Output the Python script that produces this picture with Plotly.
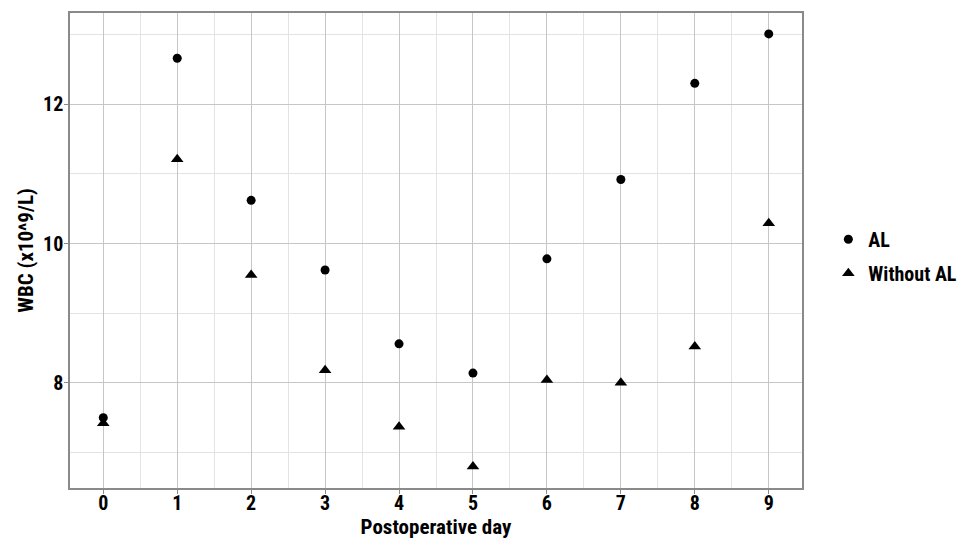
import plotly.graph_objects as go

days = [0, 1, 2, 3, 4, 5, 6, 7, 8, 9]
al_wbc = [7.50, 12.66, 10.62, 9.62, 8.56, 8.14, 9.78, 10.92, 12.30, 13.01]
without_al_wbc = [7.42, 11.21, 9.55, 8.18, 7.37, 6.80, 8.04, 8.00, 8.52, 10.29]
x_ticks = [0, 1, 2, 3, 4, 5, 6, 7, 8, 9]
y_ticks = [8, 10, 12]
y_minor = [7, 9, 11, 13]

FONT = "Roboto Condensed, Open Sans Condensed, sans-serif"

fig = go.Figure()
fig.add_trace(go.Scatter(
    x=days, y=al_wbc, mode="markers", name="<b>AL</b>", legendgroup="a",
    marker=dict(symbol="circle", size=9, color="black"),
))
fig.add_trace(go.Scatter(
    x=days, y=without_al_wbc, mode="markers", name="<b>Without AL</b>", legendgroup="b",
    marker=dict(symbol="triangle-up", size=11, color="black"),
))

axis_common = dict(
    showline=True, linecolor="#8a8a8a", linewidth=1.5, mirror=True,
    showgrid=True, gridcolor="#c6c6c6", gridwidth=1.3,
    ticks="outside", ticklen=4, tickcolor="#8a8a8a", tickwidth=1.2,
    zeroline=False, automargin=False,
    tickfont=dict(family=FONT, size=20, color="black"),
)

fig.update_xaxes(
    **axis_common,
    range=[-0.45, 9.45],
    ticklabelstandoff=-8,
    tickmode="array", tickvals=x_ticks, ticktext=[f"<b>{v}</b>" for v in x_ticks],
    minor=dict(dtick=0.5, tick0=0.5, showgrid=True, gridcolor="#e3e3e3", gridwidth=1.1),
    title=dict(text="<b>Postoperative day</b>", font=dict(family=FONT, size=21, color="black"), standoff=4),
)
fig.update_yaxes(
    **axis_common,
    range=[6.49, 13.31],
    ticklabelstandoff=-3,
    tickmode="array", tickvals=y_ticks, ticktext=[f"<b>{v}</b>" for v in y_ticks],
    minor=dict(tickmode="array", tickvals=y_minor, showgrid=True, gridcolor="#e3e3e3", gridwidth=1.1),
    title=dict(text="<b>WBC (x10^9/L)</b>", font=dict(family=FONT, size=21, color="black"), standoff=4),
)

# page body has an 8px default margin; figure sized so the plot lands where the reference has it
fig.update_layout(
    width=957, height=531,
    margin=dict(l=62, r=163, t=5, b=51, autoexpand=False),
    plot_bgcolor="white", paper_bgcolor="white",
    legend=dict(
        x=1.036, y=0.488, xanchor="left", yanchor="middle",
        font=dict(family=FONT, size=20, color="black"),
        itemwidth=30, bgcolor="rgba(0,0,0,0)", tracegroupgap=5,
    ),
)

fig.write_html("out.html")
